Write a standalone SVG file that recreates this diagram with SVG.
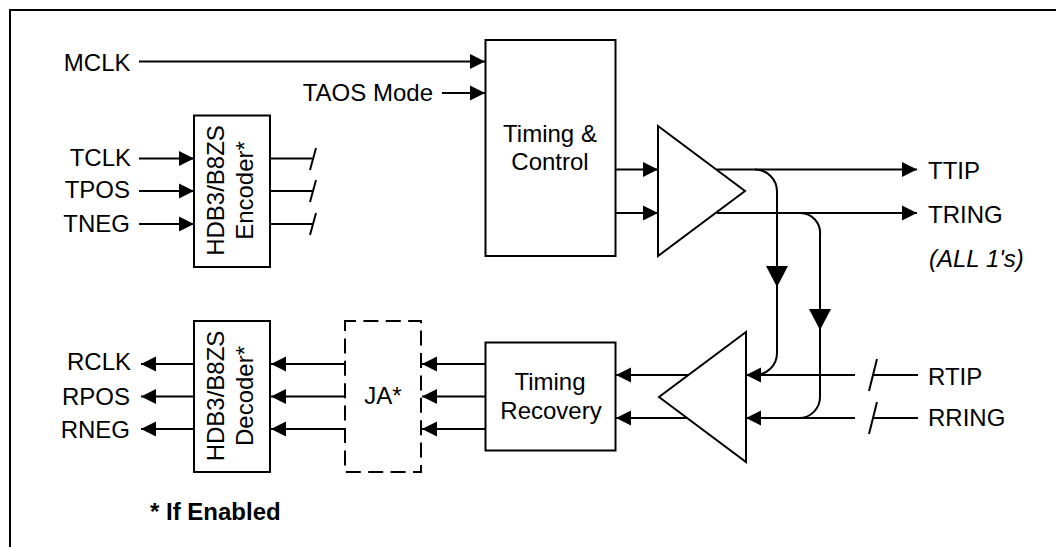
<svg xmlns="http://www.w3.org/2000/svg" width="1056" height="547" viewBox="0 0 1056 547">
<style>
text{font-family:"Liberation Sans",Arial,sans-serif;font-size:24px;fill:#000}
.b{fill:#fff;stroke:#000;stroke-width:2}
.n{fill:none;stroke:#000;stroke-width:2}
.c{fill:none;stroke:#000;stroke-width:2}
</style>
<defs>
<marker id="a" markerUnits="userSpaceOnUse" markerWidth="16" markerHeight="16" refX="15" refY="8" orient="auto"><path d="M0 0.5L15 8L0 15.5Z" fill="#000"/></marker>
<marker id="d" markerUnits="userSpaceOnUse" markerWidth="22" markerHeight="24" refX="21" refY="11" orient="auto"><path d="M0 0L21 11L0 22Z" fill="#000"/></marker>
</defs>
<path id="frame" d="M10 547V10H1056" fill="none" stroke="#000" stroke-width="2"/>
<g id="connectors" class="c">
<path marker-end="url(#a)" d="M139 61.500H485"/>
<path marker-end="url(#a)" d="M442 93H485"/>
<path marker-end="url(#a)" d="M139 158.500H194"/>
<path marker-end="url(#a)" d="M139 191H194"/>
<path marker-end="url(#a)" d="M139 224H194"/>
<path d="M270 158.500H312M270 191H312M270 224H312"/>
<path d="M316 148L310 170M316 180L310 202M316 213L310 235"/>
<path marker-end="url(#a)" d="M615 169.500H658"/>
<path marker-end="url(#a)" d="M615 213H658"/>
<path marker-end="url(#a)" d="M717 169.500H917"/>
<path marker-end="url(#a)" d="M717 213H917"/>
<path d="M755 169.500A22 22 0 0 1 777 191.500V353A22 22 0 0 1 755 375"/>
<path marker-end="url(#d)" d="M777 191V287"/>
<path d="M800 213A20 20 0 0 1 820 235V397A21 21 0 0 1 799 418"/>
<path marker-end="url(#d)" d="M820 235V330"/>
<path marker-end="url(#a)" d="M855 375H746"/>
<path marker-end="url(#a)" d="M855 418H746"/>
<path d="M918 375H874M918 418H874"/>
<path d="M877 359L869 391M877 402L869 434"/>
<path marker-end="url(#a)" d="M688 375H616"/>
<path marker-end="url(#a)" d="M688 418H616"/>
<path marker-end="url(#a)" d="M485 364H422"/>
<path marker-end="url(#a)" d="M485 396.500H422"/>
<path marker-end="url(#a)" d="M485 429H422"/>
<path marker-end="url(#a)" d="M344 364H271"/>
<path marker-end="url(#a)" d="M344 396.500H271"/>
<path marker-end="url(#a)" d="M344 429H271"/>
<path marker-end="url(#a)" d="M194 364H141"/>
<path marker-end="url(#a)" d="M194 396.500H141"/>
<path marker-end="url(#a)" d="M194 429H141"/>
</g>
<g id="timing-control"><rect class="n" x="485.500" y="40" width="130" height="216"/><text x="550" y="142" text-anchor="middle">Timing &amp;</text><text x="550" y="170" text-anchor="middle">Control</text></g>
<g id="encoder"><rect class="b" x="194" y="115.500" width="76" height="151.500"/><text transform="translate(224 190.500) rotate(-90)" text-anchor="middle">HDB3/B8ZS</text><text transform="translate(253 190.500) rotate(-90)" text-anchor="middle">Encoder*</text></g>
<g id="decoder"><rect class="b" x="194" y="321" width="76" height="151"/><text transform="translate(224 396) rotate(-90)" text-anchor="middle">HDB3/B8ZS</text><text transform="translate(253 396) rotate(-90)" text-anchor="middle">Decoder*</text></g>
<g id="ja"><rect x="345" y="321" width="76" height="151" fill="none" stroke="#000" stroke-width="2" stroke-dasharray="15 7.400" stroke-dashoffset="4"/><text x="383" y="404" text-anchor="middle">JA*</text></g>
<g id="timing-recovery"><rect class="n" x="485.500" y="342.500" width="130" height="108"/><text x="550" y="390" text-anchor="middle">Timing</text><text x="551" y="419" text-anchor="middle">Recovery</text></g>
<g id="tx-amp"><path class="n" d="M658 126L745 191L658 256Z"/></g>
<g id="rx-amp"><path class="n" d="M746 332L659 397L746 462Z"/></g>
<g id="labels">
<text x="130.500" y="71" text-anchor="end">MCLK</text>
<text x="433" y="101" text-anchor="end">TAOS Mode</text>
<text x="131" y="166" text-anchor="end">TCLK</text>
<text x="130" y="198" text-anchor="end">TPOS</text>
<text x="130" y="232" text-anchor="end">TNEG</text>
<text x="131" y="370" text-anchor="end">RCLK</text>
<text x="130" y="405" text-anchor="end">RPOS</text>
<text x="130" y="438" text-anchor="end">RNEG</text>
<text x="928" y="179">TTIP</text>
<text x="928" y="223">TRING</text>
<text x="929" y="267" style="font-style:italic">(ALL 1's)</text>
<text x="928" y="385">RTIP</text>
<text x="928" y="426">RRING</text>
<text x="150" y="520" style="font-weight:bold">* If Enabled</text>
</g>
</svg>
